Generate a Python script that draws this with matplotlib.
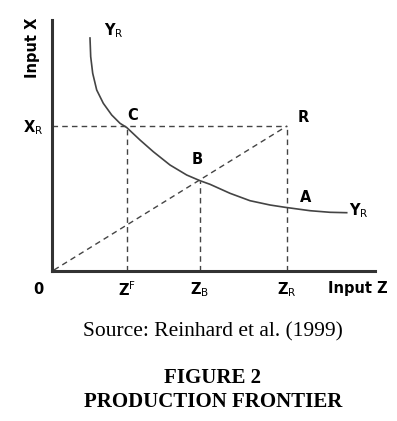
import matplotlib
matplotlib.use('Agg')
import matplotlib.pyplot as plt

# curve Y_R
curve_x = [38, 38.7, 40.7, 44.7, 51.3, 59.7, 68, 74.7, 88, 101.3, 118, 134.7,
           148, 158, 168, 178, 198, 218, 233, 258, 278, 294.7]
curve_y = [233, 214.3, 197.7, 181, 167.7, 156, 147.7, 143.5, 131, 119.3, 106, 96,
           90.3, 86.7, 82.2, 77.7, 70.3, 66, 63.7, 60.3, 58.7, 58.3]

# key points
pt_R = (235, 145)
pt_C = (75, 145)
pt_B = (148, 90.3)

# axis labels
tick_labels = ['0', r'$\mathbf{Z}^{\mathrm{F}}$', r'$\mathbf{Z}_{\mathrm{B}}$', r'$\mathbf{Z}_{\mathrm{R}}$']
tick_pos = [-14, 75, 148, 235]

W, H = 397, 421
fig = plt.figure(figsize=(W / 100, H / 100), dpi=100)
ax = fig.add_axes([52 / W, (H - 271) / H, (375 - 52) / W, (271 - 20) / H])
ax.set_xlim(0, 323)
ax.set_ylim(0, 251)
for s in ['top', 'right']:
    ax.spines[s].set_visible(False)
for s in ['left', 'bottom']:
    ax.spines[s].set_linewidth(2.2)
    ax.spines[s].set_color('#333333')
ax.set_xticks([])
ax.set_yticks([])

dash = dict(color='#444444', lw=1.0, ls=(0, (4, 3)))
# horizontal from X_R to R
ax.plot([0, pt_R[0]], [pt_R[1], pt_R[1]], **dash)
# verticals
ax.plot([pt_C[0], pt_C[0]], [0, pt_C[1]], **dash)
ax.plot([pt_B[0], pt_B[0]], [0, pt_B[1]], **dash)
ax.plot([pt_R[0], pt_R[0]], [0, pt_R[1]], **dash)
# ray from origin to R
ax.plot([2, pt_R[0]], [1, pt_R[1]], **dash)

ax.plot(curve_x, curve_y, color='#444444', lw=1.2, solid_joinstyle='round')

fs = 10.5
bold = dict(fontsize=fs, fontweight='bold', ha='center', va='center', clip_on=False)
for lab, xp in zip(tick_labels, tick_pos):
    ax.text(xp, -19, lab, **bold)
ax.text(306, -17, 'Input Z', **bold)
ax.text(-19, 223, 'Input X', rotation=90, **bold)
ax.text(-19, 143, r'$\mathbf{X}_{\mathrm{R}}$', **bold)
ax.text(62, 240, r'$\mathbf{Y}_{\mathrm{R}}$', **bold)
ax.text(307, 60, r'$\mathbf{Y}_{\mathrm{R}}$', **bold)
ax.text(81, 156, 'C', **bold)
ax.text(145, 111, 'B', **bold)
ax.text(251, 153, 'R', **bold)
ax.text(254, 73, 'A', **bold)

serif = ['Liberation Serif', 'DejaVu Serif']
fig.text(213 / W, 1 - 332 / H, 'Source: Reinhard et al. (1999)', family=serif,
         fontsize=15.5, ha='center', va='center')
fig.text(213 / W, 1 - 378 / H, 'FIGURE 2', family=serif, fontweight='bold',
         fontsize=15, ha='center', va='center')
fig.text(213 / W, 1 - 402 / H, 'PRODUCTION FRONTIER', family=serif, fontweight='bold',
         fontsize=15, ha='center', va='center')

fig.savefig('out.png', dpi=100)
